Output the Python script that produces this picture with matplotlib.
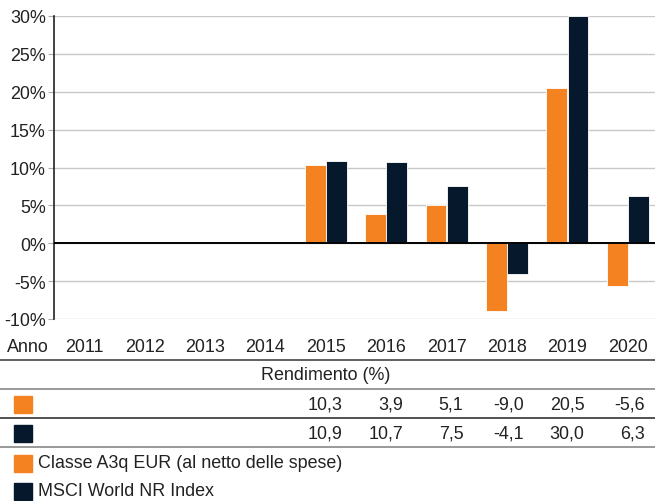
import matplotlib.pyplot as plt
from matplotlib.patches import Rectangle
from matplotlib.lines import Line2D
import matplotlib.transforms as mtransforms

plt.rcParams['font.family'] = ['Liberation Sans', 'DejaVu Sans']

years = ['2011', '2012', '2013', '2014', '2015', '2016', '2017', '2018', '2019', '2020']
fund = [None, None, None, None, 10.3, 3.9, 5.1, -9.0, 20.5, -5.6]
index = [None, None, None, None, 10.9, 10.7, 7.5, -4.1, 30.0, 6.3]
fund_name = 'Classe A3q EUR (al netto delle spese)'
index_name = 'MSCI World NR Index'

orange = '#F58220'
navy = '#05182C'
W, H = 655, 502
fs = 12.9

fig = plt.figure(figsize=(6.55, 5.02), dpi=100)
ax = fig.add_axes([54 / W, 1 - 320 / H, 1 - 54 / W, (320 - 17) / H])

bw = 0.345
for i, (f, m) in enumerate(zip(fund, index)):
    if f is not None:
        ax.bar(i - 0.175, f, width=bw, color=orange, edgecolor='white', linewidth=0.6, zorder=3)
    if m is not None:
        ax.bar(i + 0.175, m, width=bw, color=navy, edgecolor='white', linewidth=0.6, zorder=3)

ax.set_xlim(-0.5, 9.45)
ax.set_ylim(-10, 30)
ax.set_yticks(range(-10, 31, 5))
ax.set_yticklabels([f'{v}%' for v in range(-10, 31, 5)], fontsize=fs, color='#222222')
ax.set_xticks([])
ax.grid(axis='y', color='#c8c8c8', linewidth=1, zorder=0)
ax.axhline(0, color='black', linewidth=1.4, zorder=4)
for s in ['top', 'right', 'bottom']:
    ax.spines[s].set_visible(False)
ax.spines['left'].set_color('#222222')
ax.spines['left'].set_linewidth(1.2)
ax.tick_params(axis='y', length=4, color='#aaaaaa', pad=2)

def fy(py):
    return 1 - py / H

trans = mtransforms.blended_transform_factory(ax.transData, fig.transFigure)

# year row
fig.text(7 / W, fy(348), 'Anno', fontsize=fs, va='center', ha='left', color='#222222')
for i, y in enumerate(years):
    fig.text(i, fy(348), y, transform=trans, fontsize=fs, ha='center', va='center', color='#222222')

# table lines
for py, c in [(361, '#444444'), (390, '#888888'), (419, '#333333'), (448, '#888888')]:
    fig.add_artist(Line2D([0, 1], [fy(py), fy(py)], color=c, linewidth=1.2, transform=fig.transFigure))

fig.text(0.497, fy(376), 'Rendimento (%)', fontsize=fs, ha='center', va='center', color='#222222')

for py, vals, col in [(405, fund, orange), (434, index, navy)]:
    fig.add_artist(Rectangle((14 / W, fy(py + 8.5)), 18 / W, 17 / H, color=col, transform=fig.transFigure))
    for i, v in enumerate(vals):
        if v is not None:
            s = f'{v:.1f}'.replace('.', ',')
            fig.text(i + 0.28, fy(py), s, transform=trans, fontsize=fs, ha='right', va='center', color='#222222')

# legend
for py, name, col in [(464, fund_name, orange), (492, index_name, navy)]:
    fig.add_artist(Rectangle((14 / W, fy(py + 8.5)), 18 / W, 17 / H, color=col, transform=fig.transFigure))
    fig.text(38 / W, fy(py), name, fontsize=fs, ha='left', va='center', color='#222222')

fig.savefig('out.png', dpi=100)
